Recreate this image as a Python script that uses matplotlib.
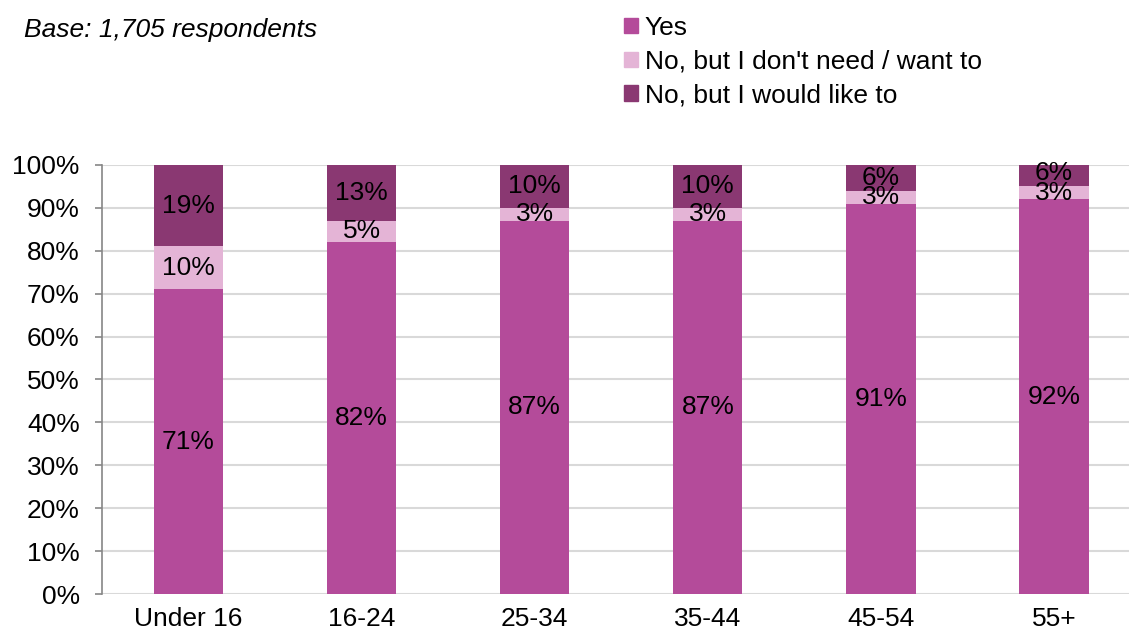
import matplotlib
matplotlib.use("Agg")
import matplotlib.pyplot as plt
from matplotlib.patches import Patch

plt.rcParams['font.family'] = ['Liberation Sans', 'DejaVu Sans']

categories = ['Under 16', '16-24', '25-34', '35-44', '45-54', '55+']
yes = [71, 82, 87, 87, 91, 92]
no_dont_need = [10, 5, 3, 3, 3, 3]
no_would_like = [19, 13, 10, 10, 6, 6]
series_names = ['Yes', "No, but I don't need / want to", 'No, but I would like to']
colors = ['#b44b9a', '#e4b4d6', '#8a3872']


def main():
  fig = plt.figure(figsize=(11.29, 6.32), dpi=100)
  ax = fig.add_axes([0.0903, 0.0601, 0.920, 0.679])

  x = list(range(len(categories)))
  bottom = [0] * len(categories)
  for vals, col in zip([yes, no_dont_need, no_would_like], colors):
    ax.bar(x, vals, width=0.4, bottom=bottom, color=col, zorder=2)
    # labels sit at segment centres, even where they crowd (as in the source)
    for i, v in enumerate(vals):
      ax.text(i, bottom[i] + v / 2, '%d%%' % v, ha='center', va='center',
              fontsize=19, color='black', zorder=3)
    bottom = [b + v for b, v in zip(bottom, vals)]

  ax.set_xlim(-0.5, len(categories) - 0.5)
  ax.set_ylim(0, 100)
  ax.set_yticks(range(0, 101, 10))
  ax.set_yticklabels(['%d%%' % t for t in range(0, 101, 10)], fontsize=19)
  ax.set_xticks(x)
  ax.set_xticklabels(categories, fontsize=19)
  ax.tick_params(axis='x', length=0, pad=9)
  ax.tick_params(axis='y', length=5, color='#868686', width=1.2, pad=11)
  ax.grid(axis='y', color='#d9d9d9', linewidth=1.5, zorder=0)
  for s in ['top', 'right', 'bottom']:
    ax.spines[s].set_visible(False)
  ax.spines['left'].set_color('#868686')
  ax.spines['left'].set_linewidth(1.2)

  fig.text(0.021, 0.953, 'Base: 1,705 respondents', fontsize=19,
           style='italic', va='center')

  handles = [Patch(color=c) for c in colors]
  fig.legend(handles, series_names, loc='upper left',
             bbox_to_anchor=(0.539, 1.0), frameon=False, fontsize=19,
             handlelength=0.5, handleheight=0.5, handletextpad=0.27,
             labelspacing=0.37, borderaxespad=0.2)

  fig.savefig('out.png', dpi=100)


if __name__ == '__main__':
  main()
